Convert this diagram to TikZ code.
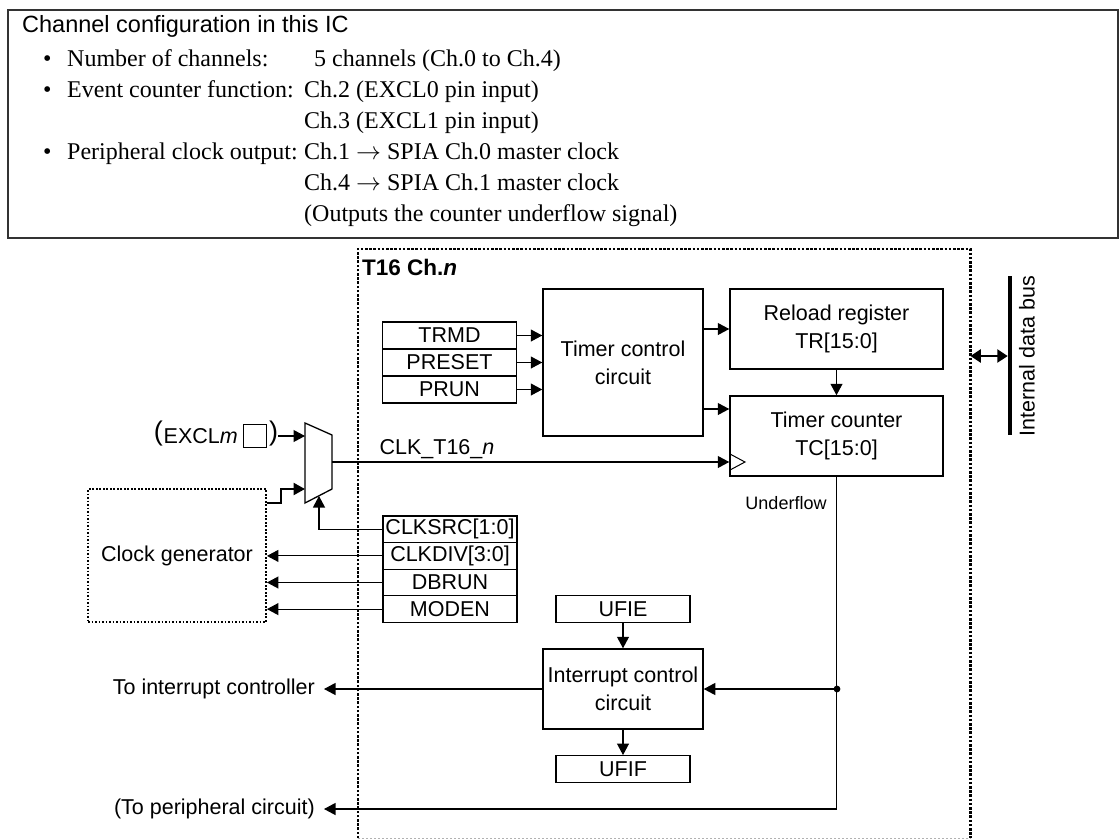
\documentclass[tikz,border=0pt]{standalone}
\usepackage{fontspec}
\setmainfont{Liberation Serif}
\setsansfont{Liberation Sans}
\usetikzlibrary{arrows.meta}
\newcommand\mydsf{\sffamily\fontsize{21.5pt}{28pt}\selectfont}
\newcommand\myttl{\sffamily\fontsize{23.5pt}{28pt}\selectfont}
\newcommand\mysrf{\rmfamily\fontsize{24pt}{30pt}\selectfont}
\newcommand\mysml{\sffamily\fontsize{18pt}{22pt}\selectfont}
\begin{document}
\begin{tikzpicture}[x=1pt,y=-1pt,
  ln/.style={line width=1.1pt},
  arr/.style={-{Triangle[length=11.5pt,width=12pt]}, line width=1.1pt},
  reg/.style={draw, line width=1.3pt, minimum width=134pt, minimum height=26.6pt, inner sep=0pt, font=\mydsf},
  blk/.style={draw, line width=1.5pt, inner sep=0pt, font=\mydsf, align=center},
  srf/.style={anchor=base west, inner sep=0pt, font=\mysrf},
  dsftxt/.style={inner sep=0pt, font=\mydsf},
  dotline/.style={line width=2.6pt, dash pattern=on 2.6pt off 1.6pt},
]
\useasboundingbox (0,0) rectangle (1119,839);
% configuration box
\node[draw, line width=1.5pt, black!80, minimum width=1110pt, minimum height=228pt, anchor=north west, inner sep=0pt] (cfg) at (7,9) {};
\node[anchor=base west, inner sep=0pt, font=\myttl] (title) at (22,32) {Channel configuration in this IC};
\node[srf] (bu1) at (43,66) {\textbullet};
\node[srf] (l1) at (67,66) {Number of channels:};
\node[srf] (v1) at (314,66) {5 channels (Ch.0 to Ch.4)};
\node[srf] (bu2) at (43,97) {\textbullet};
\node[srf] (l2) at (67,97) {Event counter function:};
\node[srf] (v2) at (304,97) {Ch.2 (EXCL0 pin input)};
\node[srf] (v3) at (304,128) {Ch.3 (EXCL1 pin input)};
\node[srf] (bu3) at (43,159) {\textbullet};
\node[srf] (l3) at (67,159) {Peripheral clock output:};
\node[srf] (v4) at (304,159) {Ch.1 $\rightarrow$ SPIA Ch.0 master clock};
\node[srf] (v5) at (304,190) {Ch.4 $\rightarrow$ SPIA Ch.1 master clock};
\node[srf] (v6) at (304,221) {(Outputs the counter underflow signal)};

% T16 channel box
\node[minimum width=612pt, minimum height=589pt, anchor=north west, inner sep=0pt] (t16) at (358,249) {};
\draw[dotline] (t16.south west) -- (t16.north west) -- (t16.north east) -- (t16.south east);
\draw[gray!60, line width=1pt, dash pattern=on 2pt off 2pt] (t16.south west) -- (t16.south east);
\node[anchor=west, inner sep=0pt, font=\sffamily\bfseries\fontsize{22.5pt}{28pt}\selectfont] (t16lbl) at (362,267) {T16 Ch.\textit{n}};

% blocks
\node[blk, minimum width=160pt, minimum height=147pt] (tcc) at (623,362.5) {Timer control\\circuit};
\node[blk, minimum width=213pt, minimum height=80pt] (rr) at (836.5,329) {Reload register\\TR[15:0]};
\node[blk, minimum width=213pt, minimum height=80pt] (tc) at (836.5,436) {Timer counter\\TC[15:0]};
\node[blk, minimum width=160pt, minimum height=80pt] (icc) at (623,689) {Interrupt control\\circuit};

% registers
\node[reg, minimum height=27pt] (trmd) at (449.5,335.5) {TRMD};
\node[reg, minimum height=27pt] (preset) at (449.5,362.5) {PRESET};
\node[reg, minimum height=27pt] (prun) at (449.5,389.5) {PRUN};
\node[reg] (clksrc) at (450,529.3) {CLKSRC[1:0]};
\node[reg] (clkdiv) at (450,555.9) {CLKDIV[3:0]};
\node[reg] (dbrun) at (450,582.5) {DBRUN};
\node[reg] (moden) at (450,609.1) {MODEN};
\node[reg] (ufie) at (623,609.1) {UFIE};
\node[reg] (ufif) at (623,769) {UFIF};

% clock generator
\node[draw, line width=1.9pt, dash pattern=on 1.9pt off 1.6pt, inner sep=0pt, minimum width=178pt, minimum height=133pt, font=\mydsf] (cg) at (177,555.5) {Clock generator};

% mux
\coordinate (muxin1) at (305,436);
\coordinate (muxin2) at (305,489);
\coordinate (muxout) at (332,462);
\coordinate (muxsel) at (319,496);
\draw[line width=1.3pt] (305,423) -- (332,435) -- (332,489) -- (305,503) -- cycle;

% EXCLm input
\node[draw, line width=1pt, minimum size=23pt, inner sep=0pt] (sq) at (254.5,435.5) {};
\node[dsftxt, anchor=east] (excl) at (238,436) {EXCL\textit{m}};
\node[inner sep=0pt, anchor=east, font=\sffamily\fontsize{27pt}{27pt}\selectfont] (lp) at (163,434) {(};
\node[inner sep=0pt, anchor=west, font=\sffamily\fontsize{27pt}{27pt}\selectfont] (rp) at (269,434) {)};
\draw[arr] (rp.east |- muxin1) -- (muxin1);

% clock generator output (step)
\draw[-{Triangle[length=11.5pt,width=12pt]}, line width=2.4pt] (cg.east |- 0,503) -- (281,503) -- (281,489) -- (muxin2);

% mux select
\draw[arr] (clksrc.west) -- (muxsel |- clksrc.west) -- (muxsel);

% clock output of mux
\draw[arr] (muxout) -- (tc.west |- muxout);
\node[dsftxt] (clklbl) at (437,449) {CLK\_T16\_\textit{n}};
\draw[line width=1pt] (730,454) -- (745,462) -- (730,470);

% control registers to clock generator
\draw[arr] (clkdiv.west) -- (clkdiv.west -| cg.east);
\draw[arr] (dbrun.west) -- (dbrun.west -| cg.east);
\draw[arr] (moden.west) -- (moden.west -| cg.east);

% timer control
\draw[arr] (trmd.east) -- (trmd.east -| tcc.west);
\draw[arr] (preset.east) -- (preset.east -| tcc.west);
\draw[arr] (prun.east) -- (prun.east -| tcc.west);
\draw[arr] (tcc.east |- rr.west) -- (rr.west);
\draw[arr] (tcc.east |- 0,409) -- (tc.west |- 0,409);
\draw[arr] (rr.south) -- (tc.north);

% underflow
\node[inner sep=0pt, font=\mysml] (uflbl) at (786,503) {Underflow};
\coordinate (junc) at (837,689);
\node[dsftxt, anchor=east] (toint) at (315,689) {To interrupt controller};
\node[dsftxt, anchor=east] (toper) at (315,809) {(To peripheral circuit)};
\draw[arr] (tc.south) |- ([xshift=9pt]toper.east);
\fill (junc) circle (3.4pt);
\draw[arr] (junc) -- (junc -| icc.east);
\draw[arr] (icc.west) -- ([xshift=9pt]toint.east);
\draw[arr] (ufie.south) -- (icc.north);
\draw[arr] (icc.south) -- (ufif.north);

% internal data bus
\coordinate (busT) at (1010,276);
\coordinate (busB) at (1010,435);
\draw[line width=4.5pt] (busT) -- (busB);
\draw[{Triangle[length=10.5pt,width=13pt]}-{Triangle[length=10.5pt,width=13pt]}, line width=2.8pt] (t16.east |- 0,356) -- (1007.75,356);
\node[dsftxt, rotate=90] (buslbl) at (1027,356) {Internal data bus};
\end{tikzpicture}
\end{document}
